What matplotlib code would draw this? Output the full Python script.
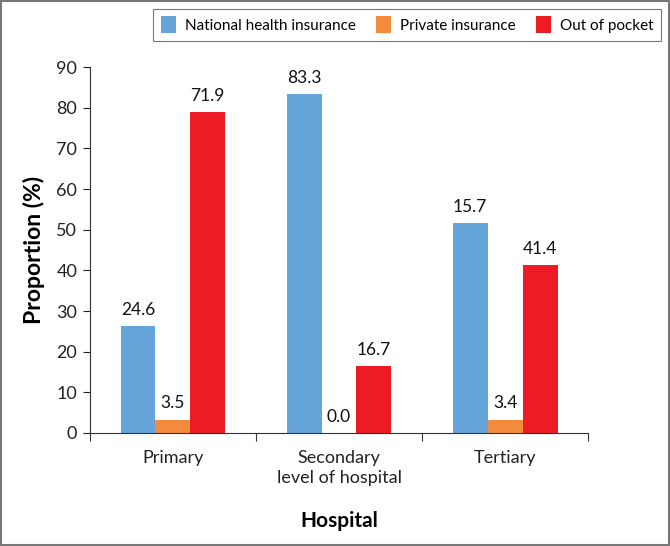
import matplotlib.pyplot as plt
from matplotlib.patches import Rectangle
import numpy as np

plt.rcParams['font.family'] = ['Lato', 'DejaVu Sans']

categories = ["Primary", "Secondary\nlevel of hospital", "Tertiary"]
series_names = ["National health insurance", "Private insurance", "Out of pocket"]
colors = ["#66a5da", "#f28c3c", "#ed1c24"]

# bar heights as drawn in the picture
nhi = [26.4, 83.3, 51.7]
private = [3.3, 0.0, 3.3]
oop = [78.9, 16.5, 41.3]

# printed value labels (they differ from bar heights in the original)
nhi_labels = ["24.6", "83.3", "15.7"]
private_labels = ["3.5", "0.0", "3.4"]
oop_labels = ["71.9", "16.7", "41.4"]

fig = plt.figure(figsize=(6.7, 5.46), dpi=100)
ax = fig.add_axes([0.134, 0.207, 0.744, 0.67])

x = np.arange(len(categories))
w = 0.21
series = [nhi, private, oop]
labels = [nhi_labels, private_labels, oop_labels]
for i, (vals, labs) in enumerate(zip(series, labels)):
    pos = x + (i - 1) * w
    ax.bar(pos, vals, width=w, color=colors[i], label=series_names[i])
    for px, v, t in zip(pos, vals, labs):
        ax.text(px, v + 2, t, ha='center', va='bottom', fontsize=12.5, color='#111111')

ax.set_xlim(-0.5, 2.5)
ax.set_ylim(0, 90)
ax.set_yticks(range(0, 91, 10))
ax.set_xticks([-0.5, 0.5, 1.5, 2.5], minor=False)
ax.set_xticklabels([])
ax.set_xticks(x, minor=True)
ax.set_xticklabels(categories, minor=True, fontsize=13, color='#222222', linespacing=1.35)
ax.tick_params(axis='x', which='minor', length=0, pad=12)
ax.tick_params(axis='x', which='major', length=6, color='#333333')
ax.tick_params(axis='y', length=5, labelsize=13, colors='#222222', pad=4)
for s in ['top', 'right']:
    ax.spines[s].set_visible(False)
for s in ['left', 'bottom']:
    ax.spines[s].set_color('#333333')

ax.set_ylabel("Proportion (%)", fontsize=16.5, fontweight='bold', labelpad=8)
ax.set_xlabel("Hospital", fontsize=15, fontweight='bold', labelpad=18)

leg = fig.legend(loc='upper right', bbox_to_anchor=(0.987, 0.984), ncol=3,
                 fontsize=11, frameon=True, fancybox=False, handlelength=1.0,
                 handleheight=1.3, columnspacing=1.3, handletextpad=0.6,
                 borderpad=0.5, borderaxespad=0)
leg.get_frame().set_edgecolor('#555555')
leg.get_frame().set_linewidth(0.8)

fig.patches.append(Rectangle((0.002, 0.002), 0.996, 0.996, transform=fig.transFigure,
                             fill=False, edgecolor='#777777', linewidth=1.5))

fig.savefig("out.png", dpi=100)
